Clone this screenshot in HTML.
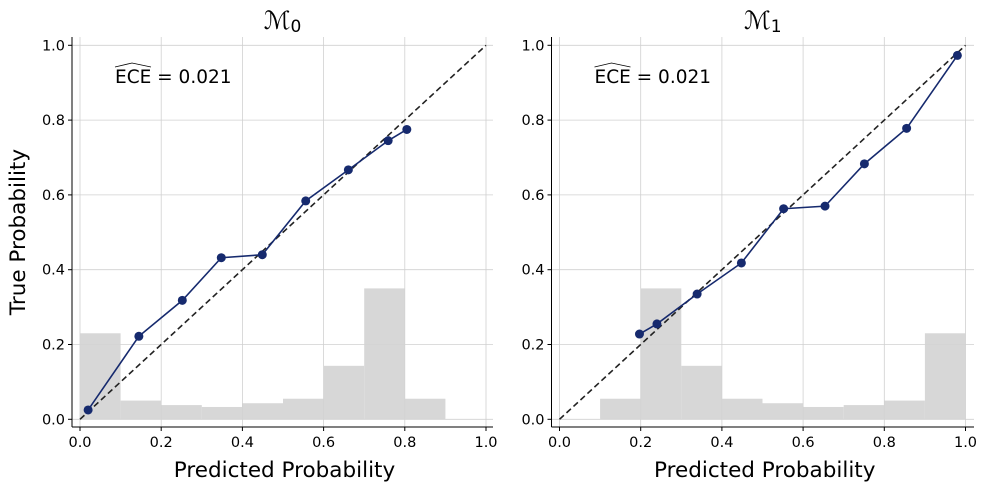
<!DOCTYPE html>
<html><head><meta charset="utf-8"><style>
body{margin:0;background:#fff;}
svg text{font-family:"DejaVu Sans","Liberation Sans",sans-serif;fill:#000;}
</style></head><body>
<svg id="chart" width="988" height="490" xmlns="http://www.w3.org/2000/svg"></svg>
<script>
const binEdges=[0,0.1,0.2,0.3,0.4,0.5,0.6,0.7,0.8,0.9,1.0];
const ticks=[0,0.2,0.4,0.6,0.8,1.0];
const tickLabels=["0.0","0.2","0.4","0.6","0.8","1.0"];
const histM0=[0.23,0.05,0.038,0.033,0.043,0.055,0.143,0.35,0.055,0];
const histM1=[0,0.055,0.35,0.143,0.055,0.043,0.033,0.038,0.05,0.23];
const predM0=[0.02,0.145,0.252,0.348,0.449,0.556,0.661,0.759,0.805];
const trueM0=[0.025,0.222,0.318,0.432,0.44,0.584,0.667,0.745,0.775];
const predM1=[0.197,0.24,0.339,0.448,0.552,0.654,0.751,0.855,0.98];
const trueM1=[0.228,0.255,0.335,0.418,0.563,0.57,0.683,0.778,0.973];
const eceLabels=["0.021","0.021"];
const titles=["0","1"];

const NS="http://www.w3.org/2000/svg";
const svg=document.getElementById('chart');
function mk(tag,attrs,parent){const e=document.createElementNS(NS,tag);for(const k in attrs)e.setAttribute(k,attrs[k]);(parent||svg).appendChild(e);return e;}

const panels=[
 {x0:80,x1:486,left:72,right:493,hist:histM0,px:predM0,py:trueM0,i:0},
 {x0:559.5,x1:965.5,left:551.5,right:974,hist:histM1,px:predM1,py:trueM1,i:1}
];
const yb=419.3, yt=45.3, axTop=37, axBottom=427;
panels.forEach(p=>{
 const g=mk('g',{});
 
 
 const X=v=>p.x0+v*(p.x1-p.x0);
 const Y=v=>yb-v*(yb-yt);
 ticks.forEach(t=>{
  const gl=mk('line',{x1:X(t),x2:X(t),y1:axTop,y2:axBottom,stroke:'#d0d0d0','stroke-width':0.8},g);
  
  
  const gh=mk('line',{x1:p.left,x2:p.right,y1:Y(t),y2:Y(t),stroke:'#d0d0d0','stroke-width':0.8},g);
  
  
 });
 p.hist.forEach((h,k)=>{
  if(h<=0)return;
  const r=mk('rect',{x:X(binEdges[k]),y:Y(h),width:X(binEdges[k+1])-X(binEdges[k]),height:Y(0)-Y(h),fill:'#d3d3d3','fill-opacity':0.9},g);
  
  
 });
 const d=mk('line',{x1:X(0),y1:Y(0),x2:X(1),y2:Y(1),stroke:'#222','stroke-width':1.6,'stroke-dasharray':'6,3.5'},g);
 
 
 const pts=p.px.map((v,k)=>X(v)+','+Y(p.py[k])).join(' ');
 const pl=mk('polyline',{points:pts,fill:'none',stroke:'#162a6e','stroke-width':1.6},g);
 
 
 p.px.forEach((v,k)=>{
  const c=mk('circle',{cx:X(v),cy:Y(p.py[k]),r:4.5,fill:'#162a6e'},g);
  
  
 });
 const sl=mk('line',{x1:p.left,x2:p.left,y1:axTop,y2:axBottom,stroke:'#000','stroke-width':1},g);
 
 
 const sb=mk('line',{x1:p.left,x2:p.right,y1:axBottom,y2:axBottom,stroke:'#000','stroke-width':1},g);
 
 
 ticks.forEach((t,k)=>{
  mk('line',{x1:X(t),x2:X(t),y1:axBottom,y2:axBottom+4,stroke:'#000'},g);
  mk('line',{x1:p.left-4,x2:p.left,y1:Y(t),y2:Y(t),stroke:'#000'},g);
  const tx=mk('text',{x:X(t),y:axBottom+20,'text-anchor':'middle','font-size':14.5},g);
  tx.textContent=tickLabels[k];
  
  
  const ty=mk('text',{x:p.left-7,y:Y(t)+5,'text-anchor':'end','font-size':14.5},g);
  ty.textContent=tickLabels[k];
  
  
 });
 const xl=mk('text',{x:(p.left+p.right)/2+2,y:477,'text-anchor':'middle','font-size':21.5},g);
 xl.textContent='Predicted Probability';
 
 
 const tt=mk('text',{x:(p.left+p.right)/2,y:29,'text-anchor':'middle','font-size':25,'font-family':'Liberation Serif, serif','font-style':'italic'},g);
 tt.textContent='\u2133';
 const sub=mk('tspan',{'font-size':17,'font-style':'normal','font-family':'DejaVu Sans, sans-serif',dy:3},tt);
 sub.textContent=titles[p.i];
 
 
 const et=mk('text',{x:X(0)+35,y:83,'font-size':18.5},g);
 et.textContent='ECE = '+eceLabels[p.i];
 
 
 const hat=mk('path',{d:`M${X(0)+35} 67 L${X(0)+52} 63 L${X(0)+71} 67`,fill:'none',stroke:'#000','stroke-width':0.8},g);
 
 
});
const yl=mk('text',{x:0,y:0,'text-anchor':'middle','font-size':21.5,transform:'translate(25,232) rotate(-90)'});
yl.textContent='True Probability';


</script>
</body></html>
